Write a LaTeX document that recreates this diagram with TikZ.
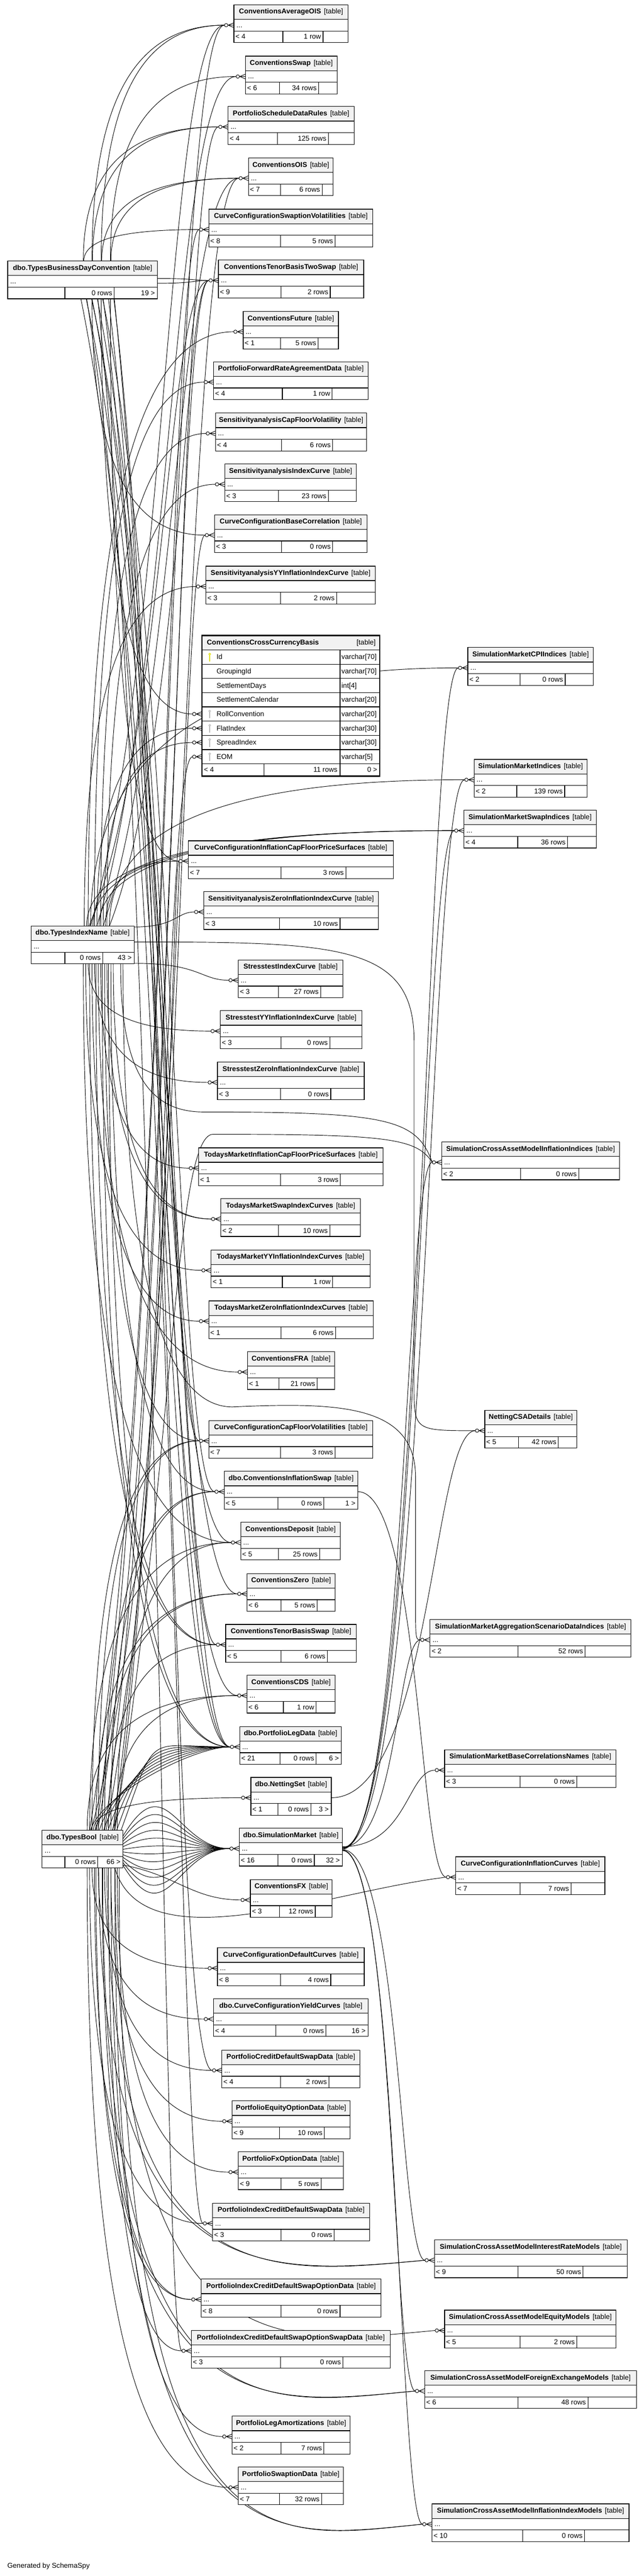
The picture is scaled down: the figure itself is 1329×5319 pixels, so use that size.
\documentclass[tikz,border=0pt]{standalone}
\usepackage{fontspec}
\setmainfont{Liberation Sans}
\usetikzlibrary{calc}

\definecolor{hdrgray}{RGB}{242,242,242}
\definecolor{keyyellow}{RGB}{222,222,0}
\definecolor{keygray}{RGB}{185,185,185}
\newcommand{\tabfont}{\fontsize{14.5}{17}\selectfont}
\pgfdeclarelayer{bg}
\pgfsetlayers{bg,main}

\tikzset{
  tbox/.style={draw, line width=1.3pt, inner sep=0pt, outer sep=0pt, anchor=north west, font=\tabfont},
  thead/.style={tbox, fill=hdrgray, minimum height=30pt},
  trow/.style={tbox, fill=white, minimum height=24pt},
  tcell/.style={tbox, fill=white, minimum height=24pt},
  ttext/.style={inner sep=0pt, font=\tabfont, text height=10pt, text depth=0.5pt},
  fk/.style={line width=1pt},
  crowfoot/.pic={
    \draw[line width=1pt] (-12pt,0pt) -- (0pt,5pt) (-12pt,0pt) -- (0pt,0pt) (-12pt,0pt) -- (0pt,-5pt);
    \draw[line width=1pt, fill=white] (-16pt,0pt) circle[radius=3.5pt];
  },
}

% table: id, left, top, right, title, parents, rows, divider 1, divider 2
\newcommand{\tbl}[9]{%
  \node[thead, minimum width={(#4-#2)*1pt}] (#1) at (#2,-#3) {\makebox[0pt]{\textbf{#5}\hspace{6pt}[table]}};
  \node[trow, minimum width={(#4-#2)*1pt}] (#1r) at (#1.south west) {};
  \node[ttext, anchor=west] (#1d) at ([xshift=5pt]#1r.west) {...};
  \node[tcell, minimum width={(#8-#2)*1pt}] (#1a) at (#1r.south west) {};
  \node[tcell, minimum width={(#9-#8)*1pt}] (#1b) at (#1a.north east) {};
  \node[tcell, minimum width={(#4-#9)*1pt}] (#1c) at (#1b.north east) {};
  \node[ttext, anchor=west] (#1x) at ([xshift=3pt]#1a.west) {#6};
  \node[ttext, anchor=east] (#1y) at ([xshift=-4pt]#1b.east) {#7};
  \coordinate (#1i) at ([xshift=-19.5pt]#1r.west);
}
\newcommand{\rtext}[2]{\node[ttext, anchor=east] (#1z) at ([xshift=-5pt]#1c.east) {#2};}

\begin{document}
\begin{tikzpicture}[x=1pt, y=1pt]
  \useasboundingbox (0,0) rectangle (1329,-5319);

  % Parent tables
  \tbl{bdc}{16}{539}{325}{dbo.TypesBusinessDayConvention}{}{0 rows}{134}{236}
  \rtext{bdc}{19 >}
  \tbl{idx}{64}{1912}{277}{dbo.TypesIndexName}{}{0 rows}{134}{212}
  \rtext{idx}{43 >}
  \tbl{bool}{87}{3779}{254}{dbo.TypesBool}{}{0 rows}{134}{202}
  \rtext{bool}{66 >}

  % Middle column
  \tbl{avgois}{483}{10}{719}{ConventionsAverageOIS}{< 4}{1 row}{584}{667}
  \tbl{swap}{507}{116}{696}{ConventionsSwap}{< 6}{34 rows}{577}{658}
  \tbl{rules}{471}{220}{731}{PortfolioScheduleDataRules}{< 4}{125 rows}{573}{678}
  \tbl{ois}{513}{326}{688}{ConventionsOIS}{< 7}{6 rows}{579}{665}
  \tbl{swvol}{431}{432}{770}{CurveConfigurationSwaptionVolatilities}{< 8}{5 rows}{579}{692}
  \tbl{tbts}{451}{537}{751}{ConventionsTenorBasisTwoSwap}{< 9}{2 rows}{580}{682}
  \tbl{future}{502}{643}{699}{ConventionsFuture}{< 1}{5 rows}{579}{657}
  \tbl{fra}{441}{747}{760}{PortfolioForwardRateAgreementData}{< 4}{1 row}{583}{686}
  \tbl{sacfv}{445}{853}{757}{SensitivityanalysisCapFloorVolatility}{< 4}{6 rows}{581}{687}
  \tbl{saic}{464}{958}{736}{SensitivityanalysisIndexCurve}{< 3}{23 rows}{575}{678}
  \tbl{basecorr}{443}{1063}{758}{CurveConfigurationBaseCorrelation}{< 3}{0 rows}{581}{687}
  \tbl{sayy}{425}{1169}{775}{SensitivityanalysisYYInflationIndexCurve}{< 3}{2 rows}{579}{695}
  \tbl{infcfps}{389}{1736}{812}{CurveConfigurationInflationCapFloorPriceSurfaces}{< 7}{3 rows}{580}{714}
  \tbl{sazero}{421}{1841}{781}{SensitivityanalysisZeroInflationIndexCurve}{< 3}{10 rows}{577}{702}
  \tbl{stic}{492}{1982}{708}{StresstestIndexCurve}{< 3}{27 rows}{575}{662}
  \tbl{styy}{455}{2087}{747}{StresstestYYInflationIndexCurve}{< 3}{0 rows}{580}{681}
  \tbl{stzero}{449}{2193}{752}{StresstestZeroInflationIndexCurve}{< 3}{0 rows}{579}{683}
  \tbl{tmicf}{410}{2370}{791}{TodaysMarketInflationCapFloorPriceSurfaces}{< 1}{3 rows}{579}{703}
  \tbl{tmswap}{456}{2475}{744}{TodaysMarketSwapIndexCurves}{< 2}{10 rows}{575}{681}
  \tbl{tmyy}{436}{2581}{764}{TodaysMarketYYInflationIndexCurves}{< 1}{1 row}{583}{687}
  \tbl{tmzero}{431}{2686}{771}{TodaysMarketZeroInflationIndexCurves}{< 1}{6 rows}{580}{693}
  \tbl{cfra}{511}{2791}{691}{ConventionsFRA}{< 1}{21 rows}{576}{655}
  \tbl{capfloorvol}{431}{2933}{770}{CurveConfigurationCapFloorVolatilities}{< 7}{3 rows}{579}{692}
  \tbl{inflswap}{463}{3038}{739}{dbo.ConventionsInflationSwap}{< 5}{0 rows}{574}{669}
  \rtext{inflswap}{1 >}
  \tbl{deposit}{497}{3143}{703}{ConventionsDeposit}{< 5}{25 rows}{575}{660}
  \tbl{zero}{510}{3249}{692}{ConventionsZero}{< 6}{5 rows}{580}{655}
  \tbl{tbs}{466}{3354}{736}{ConventionsTenorBasisSwap}{< 5}{6 rows}{580}{676}
  \tbl{cds}{510}{3459}{692}{ConventionsCDS}{< 6}{1 row}{585}{653}
  \tbl{legdata}{495}{3565}{705}{dbo.PortfolioLegData}{< 21}{0 rows}{578}{653}
  \rtext{legdata}{6 >}
  \tbl{nset}{518}{3670}{684}{dbo.NettingSet}{< 1}{0 rows}{574}{642}
  \rtext{nset}{3 >}
  \tbl{simm}{494}{3775}{707}{dbo.SimulationMarket}{< 16}{0 rows}{574}{649}
  \rtext{simm}{32 >}
  \tbl{cfx}{517}{3881}{686}{ConventionsFX}{< 3}{12 rows}{577}{651}
  \tbl{defcurves}{449}{4022}{752}{CurveConfigurationDefaultCurves}{< 8}{4 rows}{579}{683}
  \tbl{yield}{441}{4127}{760}{dbo.CurveConfigurationYieldCurves}{< 4}{0 rows}{570}{673}
  \rtext{yield}{16 >}
  \tbl{cdsdata}{458}{4233}{743}{PortfolioCreditDefaultSwapData}{< 4}{2 rows}{579}{679}
  \tbl{eqopt}{479}{4338}{723}{PortfolioEquityOptionData}{< 9}{10 rows}{577}{670}
  \tbl{fxopt}{492}{4443}{709}{PortfolioFxOptionData}{< 9}{5 rows}{580}{663}
  \tbl{icds}{439}{4549}{763}{PortfolioIndexCreditDefaultSwapData}{< 3}{0 rows}{580}{690}
  \tbl{icdso}{415}{4706}{787}{PortfolioIndexCreditDefaultSwapOptionData}{< 8}{0 rows}{580}{702}
  \tbl{icdsos}{395}{4812}{806}{PortfolioIndexCreditDefaultSwapOptionSwapData}{< 3}{0 rows}{579}{708}
  \tbl{amort}{479}{4989}{723}{PortfolioLegAmortizations}{< 2}{7 rows}{580}{669}
  \tbl{swaption}{492}{5094}{709}{PortfolioSwaptionData}{< 7}{32 rows}{577}{664}

  % Right column
  \tbl{cpi}{966}{1337}{1225}{SimulationMarketCPIIndices}{< 2}{0 rows}{1074}{1167}
  \tbl{smidx}{979}{1568}{1212}{SimulationMarketIndices}{< 2}{139 rows}{1067}{1166}
  \tbl{smswap}{958}{1673}{1231}{SimulationMarketSwapIndices}{< 4}{36 rows}{1069}{1172}
  \tbl{camii}{912}{2358}{1279}{SimulationCrossAssetModelInflationIndices}{< 2}{0 rows}{1075}{1195}
  \tbl{csa}{1001}{2912}{1191}{NettingCSADetails}{< 5}{42 rows}{1071}{1153}
  \tbl{aggr}{888}{3344}{1303}{SimulationMarketAggregationScenarioDataIndices}{< 2}{52 rows}{1070}{1208}
  \tbl{bcn}{918}{3613}{1272}{SimulationMarketBaseCorrelationsNames}{< 3}{0 rows}{1074}{1191}
  \tbl{infcurves}{941}{3834}{1249}{CurveConfigurationInflationCurves}{< 7}{7 rows}{1074}{1179}
  \tbl{irm}{897}{4625}{1295}{SimulationCrossAssetModelInterestRateModels}{< 9}{50 rows}{1070}{1204}
  \tbl{eqm}{918}{4770}{1272}{SimulationCrossAssetModelEquityModels}{< 5}{2 rows}{1074}{1191}
  \tbl{fxm}{877}{4895}{1314}{SimulationCrossAssetModelForeignExchangeModels}{< 6}{48 rows}{1070}{1214}
  \tbl{iim}{892}{5170}{1299}{SimulationCrossAssetModelInflationIndexModels}{< 10}{0 rows}{1079}{1207}

  % Focus table with its columns
  \node[thead, minimum width=367pt] (xccy) at (417,-1312) {};
  \node[ttext, anchor=west] (xccyt) at ([xshift=10pt]xccy.west) {\textbf{ConventionsCrossCurrencyBasis}};
  \node[ttext, anchor=east] (xccyk) at ([xshift=-8pt]xccy.east) {[table]};
  \foreach \key/\cname/\ctype [count=\i] in {id/Id/varchar[70], grp/GroupingId/varchar[70],
      sdays/SettlementDays/int[4], scal/SettlementCalendar/varchar[20], roll/RollConvention/varchar[20],
      flat/FlatIndex/varchar[30], spread/SpreadIndex/varchar[30], eom/EOM/varchar[5]}{
    \node[tcell, minimum width=285pt, minimum height=29.4pt] (\key r) at (417,{-1342-29.4*(\i-1)}) {};
    \node[tcell, minimum width=82pt, minimum height=29.4pt] (\key t) at (\key r.north east) {};
    \node[ttext, anchor=west] (\key n) at ([xshift=30pt]\key r.west) {\cname};
    \node[ttext, anchor=west] (\key y) at ([xshift=3pt]\key t.west) {\ctype};
    \coordinate (\key i) at ([xshift=-19.5pt]\key r.west);
  }
  \node[tcell, minimum width=128pt, minimum height=25pt] (xccya) at (eomr.south west) {};
  \node[tcell, minimum width=157pt, minimum height=25pt] (xccyb) at (xccya.north east) {};
  \node[tcell, minimum width=82pt, minimum height=25pt] (xccyc) at (xccyb.north east) {};
  \node[ttext, anchor=west] (xccyx) at ([xshift=4pt]xccya.west) {< 4};
  \node[ttext, anchor=east] (xccyy) at ([xshift=-5pt]xccyb.east) {11 rows};
  \node[ttext, anchor=east] (xccyz) at ([xshift=-5pt]xccyc.east) {0 >};
  \draw[line width=3pt] (xccy.north west) rectangle (xccyc.south east);
  \foreach \key/\kc in {id/keyyellow, roll/keygray, flat/keygray, spread/keygray, eom/keygray}{
    \draw[draw=\kc, line width=1.2pt] ([xshift=16pt,yshift=6pt]\key r.west) circle[radius=2pt];
    \draw[draw=\kc, line width=1.6pt] ([xshift=16pt,yshift=4pt]\key r.west) -- ([xshift=16pt,yshift=-9pt]\key r.west);
  }

  % crow's feet on the child side
  \foreach \child in {avgois,swap,rules,ois,swvol,tbts,future,fra,sacfv,saic,basecorr,sayy,infcfps,sazero,
      stic,styy,stzero,tmicf,tmswap,tmyy,tmzero,cfra,capfloorvol,inflswap,deposit,zero,tbs,cds,legdata,nset,
      simm,cfx,defcurves,yield,cdsdata,eqopt,fxopt,icds,icdso,icdsos,amort,swaption,cpi,smidx,smswap,camii,
      csa,aggr,bcn,infcurves,irm,eqm,fxm,iim,roll,flat,spread,eom}
    \pic at (\child r.west) {crowfoot};

  \node[ttext, anchor=west] (gen) at (15,-5298) {Generated by SchemaSpy};

  \begin{pgfonlayer}{bg}
    \fill[white] (0,0) rectangle (1329,-5319);

    % dbo.TypesBusinessDayConvention
    \foreach \child [count=\i] in {avgois,avgois,swap,rules,rules,ois,ois,swvol}{
      \draw[fk] let \p1=([xshift={155+mod(\i*19,75)}]bdc.north west), \p2=(\child i) in
        (\p1) .. controls (\x1,{\y1+.75*((\y2)-(\y1))}) and ({\x2-.6*((\x2)-(\x1))},\y2) .. (\p2);
    }
    \foreach \child [count=\i] in {basecorr,roll,infcfps}{
      \draw[fk] let \p1=([xshift={155+mod(\i*19,75)}]bdca.south west), \p2=(\child i) in
        (\p1) .. controls (\x1,{\y1+.75*((\y2)-(\y1))}) and ({\x2-.6*((\x2)-(\x1))},\y2) .. (\p2);
    }
    \foreach \child [count=\i] in {capfloorvol,inflswap,deposit,zero,tbs,cds,legdata,legdata,legdata,cdsdata,icds,icdsos}{
      \draw[fk] let \p1=([xshift={150+mod(\i*23,80)}]bdca.south west), \p2=(\child i) in
        (\p1) .. controls ({(330+mod(\i*17,50))*1pt},{\y1+.3*((\y2)-(\y1))}) and ({(330+mod(\i*17,50))*1pt},\y2) .. (\p2);
    }

    % dbo.TypesIndexName
    \foreach \child [count=\i] in {future,fra,sacfv,saic,sayy,cpi,flat,spread,smidx,smswap,smswap,smswap,infcfps}{
      \draw[fk] let \p1=([xshift={105+mod(\i*13,60)}]idx.north west), \p2=(\child i) in
        (\p1) .. controls (\x1,{\y1+.75*((\y2)-(\y1))}) and ({\x2-.6*((\x2)-(\x1))},\y2) .. (\p2);
    }
    \foreach \child [count=\i] in {avgois,swap,ois,tbts,tbts}{
      \draw[fk] let \p1=([xshift={110+mod(\i*13,55)}]idx.north west), \p2=(\child i) in
        (\p1) .. controls ({(335+mod(\i*11,45))*1pt},{\y1+.3*((\y2)-(\y1))}) and ({(335+mod(\i*11,45))*1pt},\y2) .. (\p2);
    }
    \foreach \child [count=\i] in {styy,stzero,tmicf,tmswap,tmswap,tmyy,tmzero,cfra,capfloorvol,inflswap,deposit,tbs,tbs,legdata,legdata}{
      \draw[fk] let \p1=([xshift={105+mod(\i*13,70)}]idxa.south west), \p2=(\child i) in
        (\p1) .. controls (\x1,{\y1+.75*((\y2)-(\y1))}) and ({\x2-.6*((\x2)-(\x1))},\y2) .. (\p2);
    }
    \foreach \child/\dy in {sazero/40, stic/-35}{
      \draw[fk] let \p1=([yshift=\dy]idxr.east), \p2=(\child i) in
        (\p1) .. controls ({\x1+.7*((\x2)-(\x1))},\y1) and ({\x1+.7*((\x2)-(\x1))},\y2) .. (\p2);
    }
    \draw[fk] ([yshift=9pt]idxr.east) .. controls (700,-1945) and (855,-1950) .. (855,-2150)
      -- (855,-2860) .. controls (855,-2954) .. (csai);
    \draw[fk] ([xshift=190pt]idxa.south west) .. controls (254,-2600) and (330,-2905) .. (480,-2905)
      .. controls (700,-2895) and (858,-2900) .. (858,-3050) -- (858,-3300) .. controls (858,-3386) .. (aggri);
    \draw[fk] ([xshift=185pt]idxa.south west) .. controls (249,-2200) and (300,-2296) .. (420,-2296)
      .. controls (800,-2296) and (860,-2310) .. (camiii);

    % dbo.TypesBool
    \foreach \child [count=\i] in {avgois,rules,ois,swvol,tbts,basecorr,eom,infcfps}{
      \draw[fk] let \p1=([xshift={95+mod(\i*17,65)}]bool.north west), \p2=(\child i) in
        (\p1) .. controls ({(340+mod(\i*13,45))*1pt},{\y1+.3*((\y2)-(\y1))}) and ({(340+mod(\i*13,45))*1pt},\y2) .. (\p2);
    }
    \draw[fk] ([xshift=150pt]bool.north west) .. controls (360,-3000) and (360,-2342) .. (440,-2342)
      .. controls (800,-2342) and (860,-2350) .. (camiii);
    \foreach \child [count=\i] in {capfloorvol,capfloorvol,inflswap,inflswap,deposit,deposit,zero,zero,tbs,cds,cds,nset}{
      \draw[fk] let \p1=([xshift={90+mod(\i*13,70)}]bool.north west), \p2=(\child i) in
        (\p1) .. controls (\x1,{\y1+.75*((\y2)-(\y1))}) and ({\x2-.6*((\x2)-(\x1))},\y2) .. (\p2);
    }
    \foreach \s in {0,...,7}{
      \draw[fk] ([xshift={100+9*\s}]bool.north west) .. controls +({(20+8*\s)*1pt},{(70+20*\s)*1pt}) and +({-(80+14*\s)*1pt},0pt) .. (legdatai);
    }
    \foreach \s in {0,...,11}{
      \draw[fk] ([yshift={30-5.5*\s}]boolr.east) .. controls +(90pt,{(150-27*\s)*1pt}) and +(-110pt,0pt) .. (simmi);
    }
    \draw[fk] ([yshift=-30pt]boolr.east) .. controls +(110pt,-20pt) and +(-100pt,0pt) .. (cfxi);
    \draw[fk] ([xshift=150pt]boola.south west) .. controls +(60pt,-200pt) and +(-250pt,-30pt) .. (infcurvesi);
    \foreach \child [count=\i] in {defcurves,yield,cdsdata,eqopt,fxopt,icds,icdso,icdso,icdsos,amort,swaption}{
      \draw[fk] let \p1=([xshift={90+mod(\i*13,70)}]boola.south west), \p2=(\child i) in
        (\p1) .. controls (\x1,{\y1+.75*((\y2)-(\y1))}) and ({\x2-.6*((\x2)-(\x1))},\y2) .. (\p2);
    }
    \foreach \child [count=\i] in {irm,irm,eqm,fxm,fxm,iim,iim}{
      \draw[fk] let \p1=([xshift={100+mod(\i*17,60)}]boola.south west), \p2=(\child i) in
        (\p1) .. controls (\x1,{\y2-(60+10*\i)*1pt}) and ({\x2-.5*((\x2)-(\x1))},{\y2-30pt}) .. (\p2);
    }

    % side connectors between tables
    \foreach \src/\child/\dy in {bdc/tbts/6, bdc/tbts/-4,
        simm/cpi/0, simm/smidx/1, simm/smswap/2, simm/aggr/3, simm/bcn/4, simm/camii/-1, simm/irm/-2,
        simm/fxm/-3, simm/iim/-4, inflswap/infcurves/0, nset/csa/0}{
      \draw[fk] let \p1=([yshift=\dy]\src r.east), \p2=(\child i) in
        (\p1) .. controls ({\x1+.7*((\x2)-(\x1))},\y1) and ({\x1+.7*((\x2)-(\x1))},\y2) .. (\p2);
    }
  \end{pgfonlayer}
\end{tikzpicture}
\end{document}
